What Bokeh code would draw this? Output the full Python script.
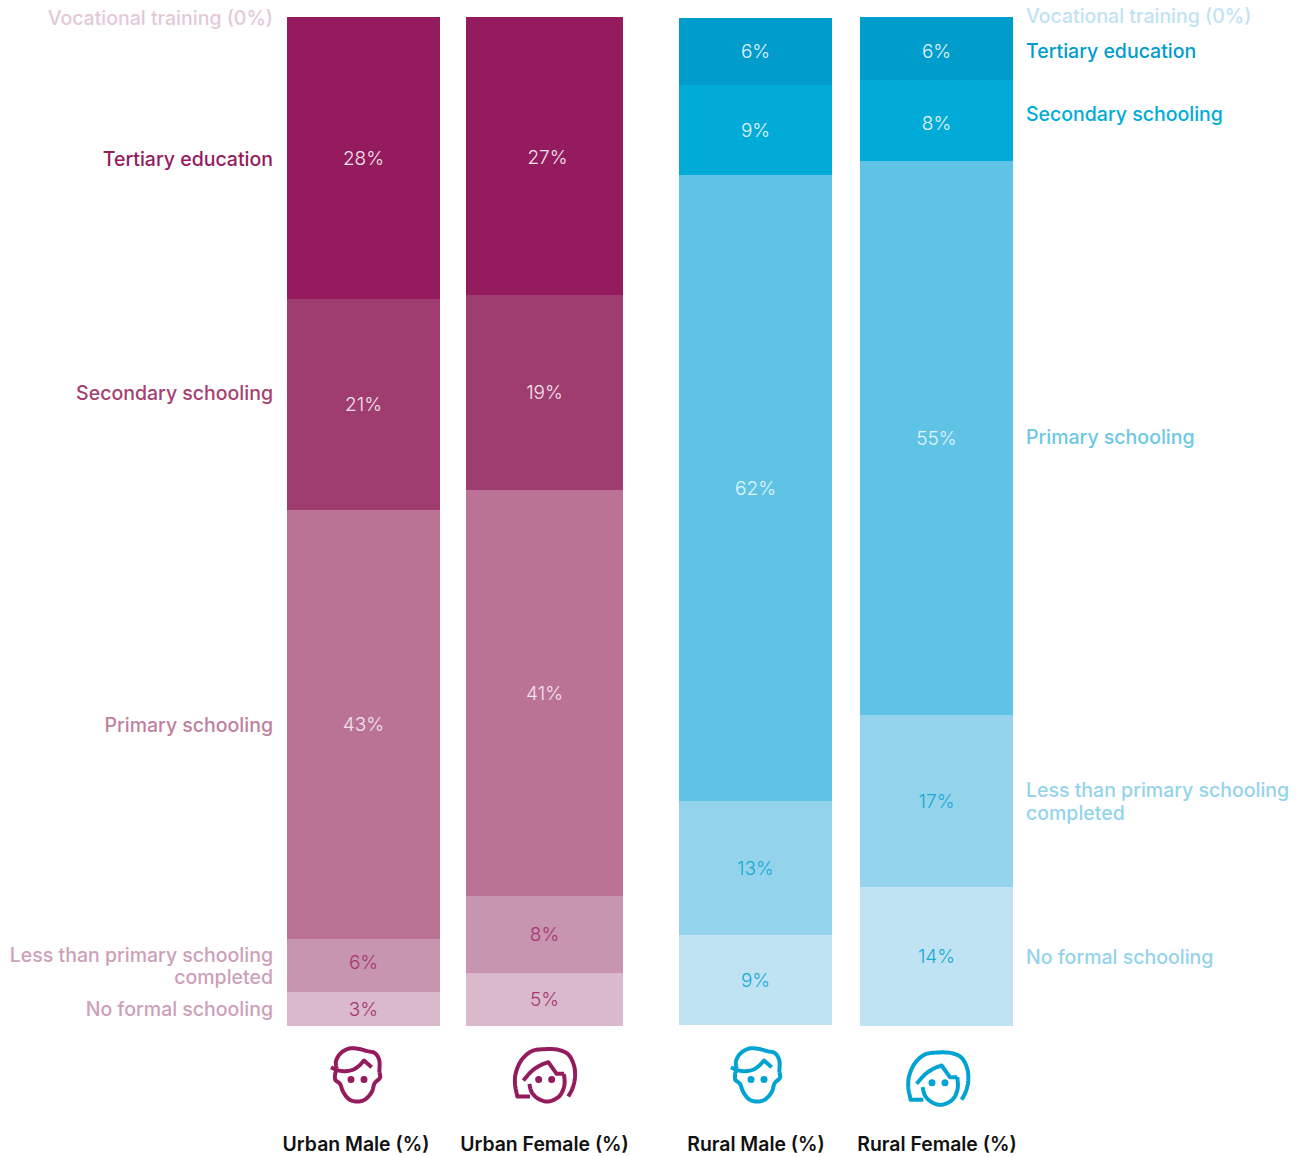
from bokeh.plotting import figure
from bokeh.models import Range1d
from bokeh.core.properties import value
from bokeh.embed import file_html
from bokeh.resources import INLINE

# ---- data -----------------------------------------------------------------
categories = ["Urban Male (%)", "Urban Female (%)", "Rural Male (%)", "Rural Female (%)"]
levels = ["No formal schooling", "Less than primary schooling completed", "Primary schooling",
          "Secondary schooling", "Tertiary education", "Vocational training (0%)"]
urban_male = [3.4, 5.3, 42.9, 21.1, 28.2, 0]
urban_female = [5.3, 7.7, 40.6, 19.5, 27.8, 0]
rural_male = [9.0, 13.4, 62.6, 9.0, 6.7, 0]
rural_female = [13.9, 17.2, 55.4, 8.1, 6.3, 0]
urban_male_labels = ["3%", "6%", "43%", "21%", "28%", ""]
urban_female_labels = ["5%", "8%", "41%", "19%", "27%", ""]
rural_male_labels = ["9%", "13%", "62%", "9%", "6%", ""]
rural_female_labels = ["14%", "17%", "55%", "8%", "6%", ""]

# ---- styles ---------------------------------------------------------------
URBAN_FILL = ["#d9b9cb", "#c795b0", "#ba7395", "#9f3c70", "#941b5e"]
RURAL_FILL = ["#bfe3f2", "#94d3ec", "#5ec3e4", "#00acd7", "#009dcc"]
URBAN_TXT = ["#a5376f", "#a5376f", "#f3e3ec", "#f3e3ec", "#f3e3ec"]
RURAL_TXT = ["#16a9d6", "#16a9d6", "#e3f5fb", "#e3f5fb", "#e3f5fb"]
LIGHT = value("Inter Light")
MEDIUM = value("Inter Medium")
SEMI = value("Inter SemiBold")

W, H = 1304, 1156
BASE = 1025.5  # screen y of the value 0
def sx(x): return x - 0.5
def sy(y): return (BASE - y) / 10.0

p = figure(width=W, height=H, output_backend="svg", toolbar_location=None,
           x_range=Range1d(0, W), y_range=Range1d(sy(H), sy(0)),
           min_border=0, outline_line_color=None)
p.xaxis.visible = False
p.yaxis.visible = False
p.grid.visible = False
p.background_fill_color = "white"

columns = [
    (urban_male, urban_male_labels, 287, 440, URBAN_FILL, URBAN_TXT, 0.0, {}),
    (urban_female, urban_female_labels, 466, 623, URBAN_FILL, URBAN_TXT, 0.0, {4: (3, 1)}),
    (rural_male, rural_male_labels, 679, 832, RURAL_FILL, RURAL_TXT, 0.1, {}),
    (rural_female, rural_female_labels, 860, 1013, RURAL_FILL, RURAL_TXT, 0.0, {4: (0, 2.5), 3: (0, 3)}),
]
for vals, labs, x0, x1, fills, txts, base, nudge in columns:
    bottom = base
    for i, (v, lab) in enumerate(zip(vals, labs)):
        if v <= 0:
            continue
        p.quad(left=[sx(x0)], right=[sx(x1)], bottom=[bottom], top=[bottom + v],
               fill_color=fills[i], line_color=None)
        dx, dy = nudge.get(i, (0, 0))
        if i == 1 and vals is urban_male:
            dy = -3
        p.text(x=[sx((x0 + x1) / 2 + dx)], y=[bottom + v / 2 - dy / 10.0], text=[lab],
               text_font=LIGHT, text_font_size="19px", text_color=txts[i],
               text_align="center", text_baseline="middle")
        bottom += v

# level labels
def label(x, y, t, color, align):
    p.text(x=[sx(x)], y=[sy(y)], text=[t], text_font=MEDIUM, text_font_size="19.5px",
           text_color=color, text_align=align, text_baseline="middle")

left_labels = [
    ("Vocational training (0%)", 17.5, "#e3c9d8"), ("Tertiary education", 158.5, "#941b5e"),
    ("Secondary schooling", 392.5, "#a5406f"), ("Primary schooling", 724.5, "#c07f9f"),
    ("Less than primary schooling", 954.5, "#cd9fb9"), ("completed", 976.5, "#cd9fb9"),
    ("No formal schooling", 1008.5, "#cd9fb9"),
]
right_labels = [
    ("Vocational training (0%)", 15.5, "#bfe3f2"), ("Tertiary education", 50.5, "#009dcc"),
    ("Secondary schooling", 113.5, "#00acd7"), ("Primary schooling", 436.5, "#6cc8e6"),
    ("Less than primary schooling", 789.5, "#94d3ec"), ("completed", 812.5, "#94d3ec"),
    ("No formal schooling", 956.5, "#94d3ec"),
]
for t, y, c in left_labels:
    label(273, y, t, c, "right")
for t, y, c in right_labels:
    label(1026, y, t, c, "left")

# category labels under the icons
for cat, cx in zip(categories, [356, 544.5, 756, 937]):
    p.text(x=[sx(cx)], y=[sy(1143.5)], text=[cat], text_font=SEMI, text_font_size="19.4px",
           text_color="#111111", text_align="center", text_baseline="middle")

# ---- icons ----------------------------------------------------------------
def smooth(pts, n=8):
    pts = [pts[0]] + list(pts) + [pts[-1]]
    out = []
    for i in range(1, len(pts) - 2):
        p0, p1, p2, p3 = pts[i - 1], pts[i], pts[i + 1], pts[i + 2]
        for k in range(n):
            t = k / n
            out.append(tuple(0.5 * (2 * p1[j] + (p2[j] - p0[j]) * t
                                    + (2 * p0[j] - 5 * p1[j] + 4 * p2[j] - p3[j]) * t * t
                                    + (3 * p1[j] - p0[j] - 3 * p2[j] + p3[j]) * t ** 3)
                             for j in (0, 1)))
    out.append(pts[-1])
    return out

MALE_STROKES = [
    smooth([(153, 110), (172, 119), (197, 122), (220, 117), (238, 105), (252, 90)]) + [(275, 110)],
    smooth([(170, 114), (168, 92), (182, 68), (208, 54), (235, 55), (262, 62), (285, 68), (298, 90), (298, 125)]),
    smooth([(298, 125), (300, 142), (284, 158), (275, 185), (255, 207), (232, 213), (208, 207), (190, 185), (180, 160), (166, 148), (166, 128), (172, 118)]),
]
MALE_EYES = [(213, 147), (252, 147)]
FEMALE_STROKES = [
    [(750, 198), (712, 198)] + smooth([(712, 198), (705, 160), (708, 125), (725, 88), (755, 62), (795, 56), (835, 58), (865, 72), (882, 105), (885, 140), (878, 172), (865, 198)]),
    [(730, 150)] + smooth([(730, 150), (755, 122), (780, 105), (805, 95)]) + [(830, 130), (852, 130)],
    smooth([(852, 130), (853, 165), (838, 197), (805, 213), (775, 205), (755, 185), (748, 160)]),
]
FEMALE_EYES = [(776, 147), (815, 147)]

def icon(strokes, eyes, ox, oy, color):
    for s in strokes:
        p.line([sx(ox + a / 3) for a, _ in s], [sy(oy + b / 3) for _, b in s],
               line_color=color, line_width=4, line_join="round")
    p.scatter([sx(ox + a / 3) for a, _ in eyes], [sy(oy + b / 3) for _, b in eyes],
              size=7, marker="circle", fill_color=color, line_color=None)

icon(MALE_STROKES, MALE_EYES, 280, 1030, "#941b5e")
icon(FEMALE_STROKES, FEMALE_EYES, 280, 1030, "#941b5e")
icon(MALE_STROKES, MALE_EYES, 680, 1030, "#00a3d1")
icon(FEMALE_STROKES, FEMALE_EYES, 673.3, 1033.3, "#00a3d1")

open("out.html", "w").write(file_html(p, INLINE))
